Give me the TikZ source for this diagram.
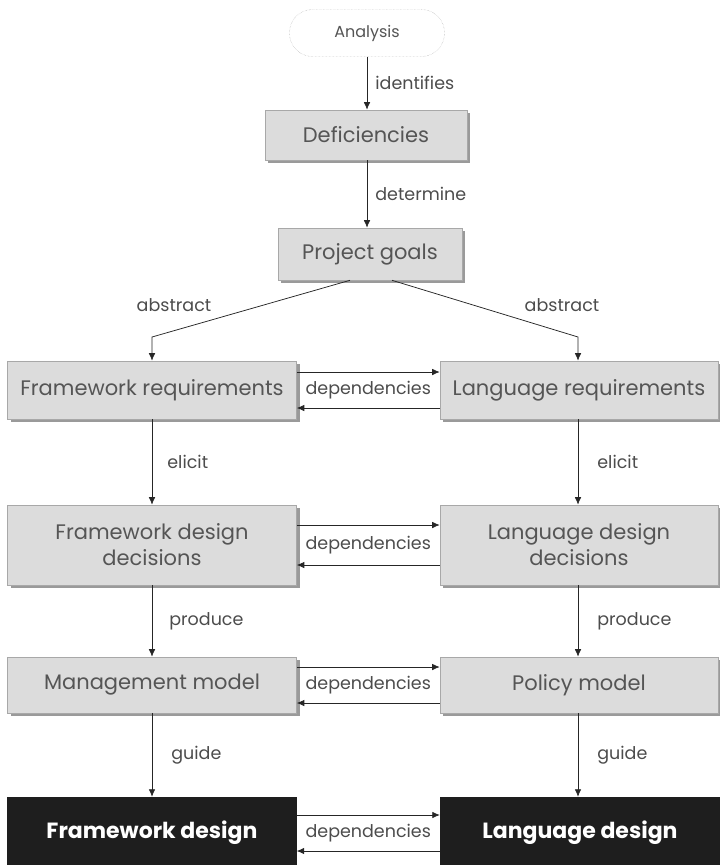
\documentclass[tikz,border=0pt]{standalone}
\usepackage{fontspec}
\setmainfont{Poppins}
\usetikzlibrary{arrows.meta,shadows}
\definecolor{boxfill}{HTML}{DCDCDC}
\definecolor{boxline}{HTML}{A8A8A8}
\definecolor{boxshade}{HTML}{9A9A9A}
\definecolor{boxtext}{HTML}{555555}
\definecolor{darkbox}{HTML}{1E1E1E}
\begin{document}
\begin{tikzpicture}[x=1pt,y=-1pt,
  stepbox/.style={draw=boxline, fill=boxfill, text=boxtext, font=\fontsize{21}{26}\selectfont,
    align=center, inner sep=0pt, line width=0.6pt,
    drop shadow={shadow xshift=3pt, shadow yshift=-3pt, fill=boxshade, opacity=1}},
  leftbox/.style={stepbox, minimum width=289pt},
  rightbox/.style={stepbox, minimum width=278pt},
  finalbox/.style={draw=darkbox, fill=darkbox, text=white, inner sep=0pt,
    font=\fontsize{22}{26}\selectfont\bfseries, minimum height=72pt},
  startbox/.style={draw=boxline, densely dotted, rounded corners=23pt, fill=white,
    minimum width=155pt, minimum height=47pt, text=boxtext, font=\fontsize{16}{19}\selectfont},
  arr/.style={draw=black!85, line width=0.75pt, -{Latex[length=7.5pt,width=6.5pt]}},
  lbl/.style={font=\fontsize{17.5}{21}\selectfont, text=black!70, inner sep=1pt},
  deplbl/.style={font=\fontsize{17.5}{21}\selectfont, text=black!70, inner sep=0pt}
]
\useasboundingbox (0,0) rectangle (720,865);

% top of the chain
\node[startbox] (analysis) at (367,33) {Analysis};
\node[stepbox, minimum width=202pt, minimum height=50pt] (def) at (366,135) {Deficiencies};
\node[stepbox, minimum width=184pt, minimum height=52pt] (goals) at (370,254) {Project goals};
\coordinate (spine) at (367,0);

% framework column (left) and language column (right)
\node[leftbox, minimum height=58pt] (freq) at (152,390) {Framework requirements};
\node[rightbox, minimum height=58pt] (lreq) at (579,390) {Language requirements};
\node[leftbox, minimum height=80pt] (fdd) at (152,545) {Framework design\\decisions};
\node[rightbox, minimum height=80pt] (ldd) at (579,545) {Language design\\decisions};
\node[leftbox, minimum height=56pt] (mm) at (152,685) {Management model};
\node[rightbox, minimum height=56pt] (pm) at (579,685) {Policy model};
\node[finalbox, minimum width=289pt] (fd) at (152,833) {Framework design};
\node[finalbox, minimum width=280pt] (ld) at (580,833) {Language design};

% vertical flow
\draw[arr] (analysis.south -| spine) -- node[lbl, right=7pt] {identifies} (def.north -| spine);
\draw[arr] (def.south -| spine) -- node[lbl, right=7pt] {determine} (goals.north -| spine);

\coordinate (bendL) at (152,337);
\coordinate (bendR) at (578,337);
\draw[arr] ([xshift=-20pt]goals.south) -- (bendL) -- (freq.north);
\draw[arr] ([xshift=22pt]goals.south) -- (bendR) -- (lreq.north -| bendR);
\node[lbl] at (174,305) {abstract};
\node[lbl] at (562,305) {abstract};

\draw[arr] (freq) -- node[lbl, right=14pt] {elicit} (fdd);
\draw[arr] (lreq.south -| bendR) -- node[lbl, right=18pt] {elicit} (ldd.north -| bendR);
\draw[arr] (fdd) -- node[lbl, right=16pt] {produce} (mm);
\draw[arr] (ldd.south -| bendR) -- node[lbl, right=18pt] {produce} (pm.north -| bendR);
\draw[arr] (mm) -- node[lbl, right=18pt] {guide} (fd);
\draw[arr] (pm.south -| bendR) -- node[lbl, right=18pt] {guide} (ld.north -| bendR);

% dependencies between the two columns
\foreach \a/\b/\d in {freq/lreq/18, fdd/ldd/20, mm/pm/18, fd/ld/18} {
  \draw[arr] ([yshift=\d pt]\a.east) -- ([yshift=\d pt]\b.west);
  \draw[arr] ([yshift=-\d pt]\b.west) -- ([yshift=-\d pt]\a.east);
  \path (\a.east) -- node[deplbl] {dependencies} (\b.west);
}
\end{tikzpicture}
\end{document}
